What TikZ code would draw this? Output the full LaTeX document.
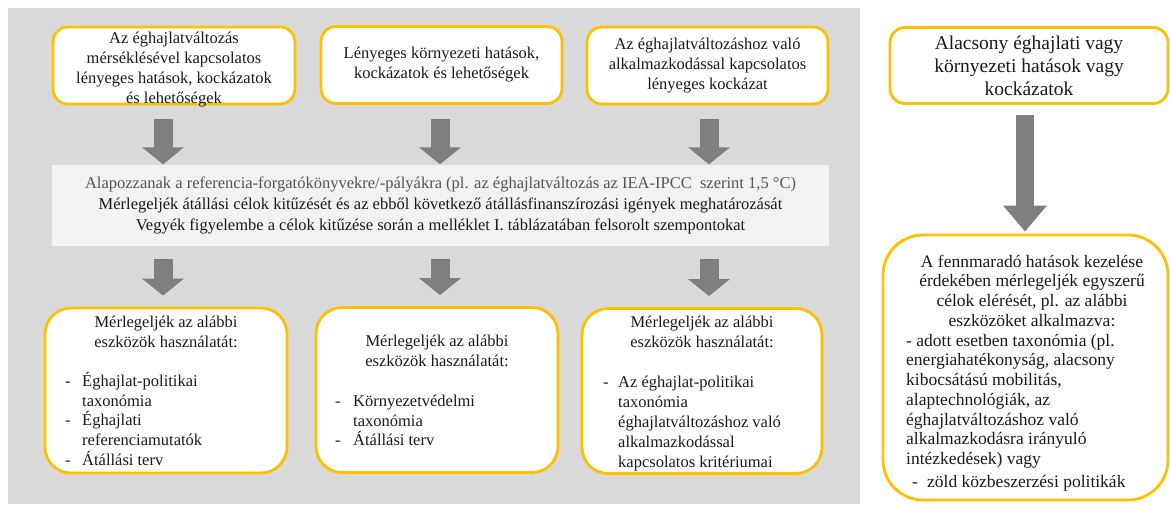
\documentclass[tikz,border=0pt]{standalone}
\usepackage{fontspec}
\setmainfont{Liberation Serif}
\usetikzlibrary{arrows.meta,calc}
\definecolor{bgc}{HTML}{D9D9D9}
\definecolor{panelc}{HTML}{F2F2F2}
\definecolor{boxc}{HTML}{FFC000}
\definecolor{arrc}{HTML}{7F7F7F}
\definecolor{txtc}{HTML}{1A1A1A}
\definecolor{lightt}{HTML}{555555}
\newcommand\fst{\rule{0pt}{15pt}}
\newcommand\dsh[1]{\makebox[#1][l]{-}}
\begin{document}
\begin{tikzpicture}[x=1pt,y=-1pt,
  ybox/.style={draw=boxc, line width=2.8pt, fill=white, inner sep=0pt},
  topbox/.style={ybox, rounded corners=15pt, minimum width=242pt, minimum height=77pt,
     align=center, text=txtc, font=\fontsize{16.5}{20}\selectfont},
  lowbox/.style={ybox, rounded corners=26pt, minimum width=242pt, minimum height=165pt},
  txt/.style={inner sep=0pt, text=txtc, font=\fontsize{16.5}{19.8}\selectfont},
  bigarr/.style={draw=arrc, line width=19pt, -{Triangle[width=41pt,length=17pt]}},
  rarr/.style={draw=arrc, line width=18pt, -{Triangle[width=42pt,length=26pt]}}
]
\useasboundingbox (0,0) rectangle (1170,504);
\fill[bgc] (8,8) rectangle (860,504);

% top boxes
\node[topbox] (t1) at (174,65.5) {};
\node[txt, align=center, font=\fontsize{16.5}{20.3}\selectfont] (t1x) at (174,69.5) {Az éghajlatváltozás\\ mérséklésével kapcsolatos\\ lényeges hatások, kockázatok\\ és lehetőségek};
\node[topbox, minimum width=241pt] (t2) at (441.5,65) {Lényeges környezeti hatások,\\ kockázatok és lehetőségek};
\node[topbox, minimum width=241pt] (t3) at (707.5,65.5) {Az éghajlatváltozáshoz való\\ alkalmazkodással kapcsolatos\\ lényeges kockázat};
\node[topbox, minimum width=278pt, minimum height=76pt, font=\fontsize{19.5}{23}\selectfont] (r1) at (1029,65.5) {Alacsony éghajlati vagy\\ környezeti hatások vagy\\ kockázatok};

% middle panel
\node[fill=panelc, inner sep=0pt, minimum width=777pt, minimum height=81pt,
      align=center, text=txtc, font=\fontsize{16.5}{21}\selectfont] (pan) at (440.5,205.5)
  {{\color{lightt}Alapozzanak a referencia-forgatókönyvekre/-pályákra (pl. az éghajlatváltozás az IEA-IPCC\ \ szerint 1,5~°C)}\\
   Mérlegeljék átállási célok kitűzését és az ebből következő átállásfinanszírozási igények meghatározását\\
   Vegyék figyelembe a célok kitűzése során a melléklet I. táblázatában felsorolt szempontokat};

% bottom boxes
\node[lowbox] (b1) at (166,390.5) {};
\node[lowbox] (b2) at (437,390) {};
\node[lowbox, minimum width=240pt] (b3) at (702,391) {};
\node[ybox, rounded corners=40pt, minimum width=285pt, minimum height=265pt] (r2) at (1025.5,367.5) {};

\node[txt, align=center, anchor=north] (h1) at (166,312) {\fst Mérlegeljék az alábbi\\ eszközök használatát:};
\node[txt, align=left, anchor=north west] (l1) at (65,371) {\fst\dsh{17pt}Éghajlat-politikai\\ \hspace*{17pt}taxonómia\\ \dsh{17pt}Éghajlati\\ \hspace*{17pt}referenciamutatók\\ \dsh{17pt}Átállási terv};

\node[txt, align=center, anchor=north] (h2) at (437,331) {\fst Mérlegeljék az alábbi\\ eszközök használatát:};
\node[txt, align=left, anchor=north west] (l2) at (335,391) {\fst\dsh{18pt}Környezetvédelmi\\ \hspace*{18pt}taxonómia\\ \dsh{18pt}Átállási terv};

\node[txt, align=center, anchor=north] (h3) at (702,312) {\fst Mérlegeljék az alábbi\\ eszközök használatát:};
\node[txt, align=left, anchor=north west, font=\fontsize{16.5}{20}\selectfont] (l3) at (603,372) {\fst\dsh{15pt}Az éghajlat-politikai\\ \hspace*{15pt}taxonómia\\ \hspace*{15pt}éghajlatváltozáshoz való\\ \hspace*{15pt}alkalmazkodással\\ \hspace*{15pt}kapcsolatos kritériumai};

\node[txt, align=center, anchor=north, font=\fontsize{17.5}{19.7}\selectfont] (h4) at (1032,252) {\fst A fennmaradó hatások kezelése\\ érdekében mérlegeljék egyszerű\\ célok elérését, pl. az alábbi\\ eszközöket alkalmazva:};
\node[txt, align=left, anchor=north west, font=\fontsize{17.5}{19.7}\selectfont] (l4) at (906,331) {\fst - adott esetben taxonómia (pl.\\ energiahatékonyság, alacsony\\ kibocsátású mobilitás,\\ alaptechnológiák, az\\ éghajlatváltozáshoz való\\ alkalmazkodásra irányuló\\ intézkedések) vagy\\[3pt] \hspace*{6pt}\dsh{15pt}zöld közbeszerzési politikák};

% arrows
\coordinate (a1) at (163,0);
\coordinate (a2) at (440,0);
\coordinate (a3) at (709,0);
\coordinate (a4) at (1025,0);
\draw[bigarr] ($(t1.south -| a1)+(0,14)$) -- ($(pan.north -| a1)+(0,-0.5)$);
\draw[bigarr] ($(t2.south -| a2)+(0,14)$) -- ($(pan.north -| a2)+(0,-0.5)$);
\draw[bigarr] ($(t3.south -| a3)+(0,14)$) -- ($(pan.north -| a3)+(0,-0.5)$);
\draw[bigarr] ($(pan.south -| a1)+(0,13)$) -- ($(b1.north -| a1)+(0,-11)$);
\draw[bigarr] ($(pan.south -| a2)+(0,13)$) -- ($(b2.north -| a2)+(0,-11)$);
\draw[bigarr] ($(pan.south -| a3)+(0,13)$) -- ($(b3.north -| a3)+(0,-11)$);
\draw[rarr] ($(r1.south -| a4)+(0,10)$) -- ($(r2.north -| a4)+(0,-2)$);
\end{tikzpicture}
\end{document}
